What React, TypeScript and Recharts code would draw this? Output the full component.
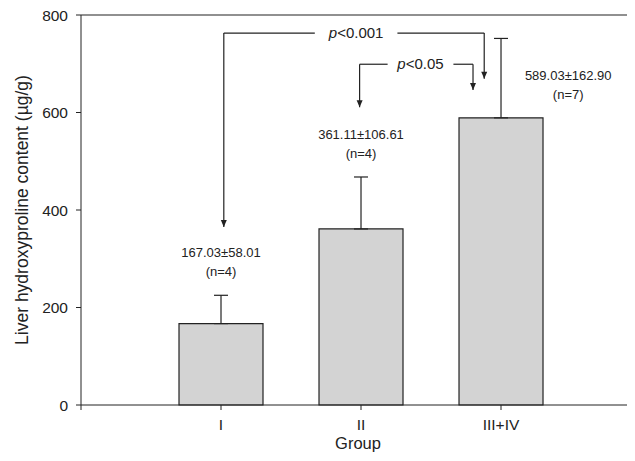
import React from 'react'
import {
  ComposedChart,
  Bar,
  ErrorBar,
  XAxis,
  YAxis,
  ReferenceLine,
  ReferenceDot,
  Label
} from 'recharts'

// group means, SD and sample size
const groups = ['I', 'II', 'III+IV']
const means = [167.03, 361.11, 589.03]
const sds = [58.01, 106.61, 162.9]
const counts = [4, 4, 7]
const yTicks = [0, 200, 400, 600, 800]
const xTicks = [0, 1, 2, 3]

const data = groups.map((g, i) => ({
  x: i + 1,
  name: g,
  mean: means[i],
  err: [0, sds[i]]
}))

// where the value labels sit (data coords)
const labelPos = [
  { x: 1, y: 312 },
  { x: 2, y: 554 },
  { x: 3.48, y: 675 }
]

// significance brackets: legs, top bar, gap for the text
const brackets = [
  { text: '0.001', x1: 1.02, tip1: 365, x2: 2.88, tip2: 669, top: 763, gap: [1.67, 2.26] },
  { text: '0.05', x1: 1.99, tip1: 611, x2: 2.8, tip2: 646, top: 699, gap: [2.19, 2.66] }
]

const FONT = '"Liberation Sans", Arial, sans-serif'
const INK = '#222'

const Arrow = (props: any) => (
  <polygon
    points={`${props.cx - 3},${props.cy - 7} ${props.cx + 3},${props.cy - 7} ${props.cx},${props.cy}`}
    fill={INK}
  />
)

export default function App() {
  return (
    <div style={{ margin: -8, fontFamily: FONT }}>
      <ComposedChart
        width={635}
        height={461}
        data={data}
        margin={{ top: 15, right: 0, bottom: 0, left: 0 }}
      >
        <XAxis
          type="number"
          dataKey="x"
          domain={[0, 3.957]}
          ticks={xTicks}
          tickFormatter={(v: number) => (v >= 1 ? groups[v - 1] : '')}
          allowDataOverflow
          height={56}
          tickSize={5}
          tickMargin={9}
          stroke={INK}
          tick={{ fill: INK, fontSize: 15.5, fontFamily: FONT }}
        >
          <Label
            value="Group"
            position="insideBottom"
            offset={12}
            style={{ fill: INK, fontSize: 16.5, fontFamily: FONT }}
          />
        </XAxis>
        <YAxis
          domain={[0, 800]}
          ticks={yTicks}
          width={81}
          tickSize={5}
          tickMargin={8}
          stroke={INK}
          tick={{ fill: INK, fontSize: 15.5, fontFamily: FONT }}
        >
          <Label
            value="Liver hydroxyproline content (µg/g)"
            angle={-90}
            position="insideLeft"
            offset={22}
            style={{ textAnchor: 'middle', fill: INK, fontSize: 17.5, fontFamily: FONT }}
          />
        </YAxis>
        <ReferenceLine y={800} stroke={INK} strokeWidth={1.2} />
        <Bar
          dataKey="mean"
          barSize={84}
          fill="#d3d3d3"
          stroke={INK}
          strokeWidth={1.2}
          isAnimationActive={false}
        >
          <ErrorBar dataKey="err" width={7} stroke={INK} strokeWidth={1.2} />
        </Bar>

        {brackets.map((b, i) => (
          <React.Fragment key={'b' + i}>
            <ReferenceLine segment={[{ x: b.x1, y: b.top }, { x: b.x1, y: b.tip1 }]} stroke={INK} strokeWidth={1.2} />
            <ReferenceLine segment={[{ x: b.x2, y: b.top }, { x: b.x2, y: b.tip2 }]} stroke={INK} strokeWidth={1.2} />
            <ReferenceLine segment={[{ x: b.x1, y: b.top }, { x: b.gap[0], y: b.top }]} stroke={INK} strokeWidth={1.2} />
            <ReferenceLine segment={[{ x: b.gap[1], y: b.top }, { x: b.x2, y: b.top }]} stroke={INK} strokeWidth={1.2} />
            <ReferenceDot x={b.x1} y={b.tip1} r={3} shape={Arrow} />
            <ReferenceDot x={b.x2} y={b.tip2} r={3} shape={Arrow} />
            <ReferenceDot
              x={(b.gap[0] + b.gap[1]) / 2}
              y={b.top}
              r={1}
              shape={(p: any) => (
                <text x={p.cx} y={p.cy} dy={5} textAnchor="middle" fontSize={15} fontFamily={FONT} fill={INK}>
                  <tspan fontStyle="italic">p</tspan>
                  {'<' + b.text}
                </text>
              )}
            />
          </React.Fragment>
        ))}

        {labelPos.map((pos, i) => (
          <ReferenceDot
            key={'l' + i}
            x={pos.x}
            y={pos.y}
            r={1}
            shape={(p: any) => (
              <text x={p.cx} y={p.cy} textAnchor="middle" fontSize={13} fontFamily={FONT} fill={INK}>
                <tspan x={p.cx} dy={4}>{`${means[i].toFixed(2)}±${sds[i].toFixed(2)}`}</tspan>
                <tspan x={p.cx} dy={19}>{`(n=${counts[i]})`}</tspan>
              </text>
            )}
          />
        ))}
      </ComposedChart>
    </div>
  )
}
